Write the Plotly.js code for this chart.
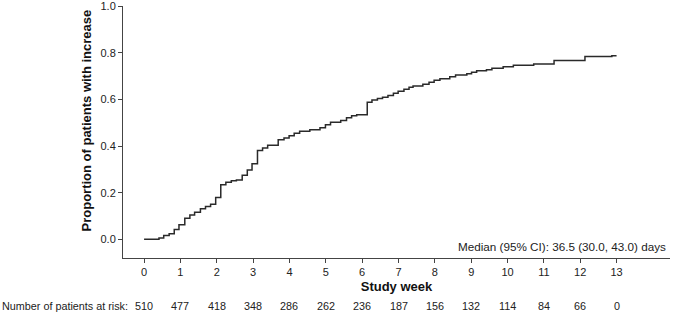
<!DOCTYPE html>
<html>
<head>
<meta charset="utf-8">
<script src="https://cdn.plot.ly/plotly-3.0.1.min.js"></script>
<style>
  html, body { margin: 0; padding: 0; background: #fff; }
  #chart { width: 674px; height: 315px; }
</style>
</head>
<body>
<div id="chart"></div>
<script>
// Step curve: study week and cumulative proportion with increase
const weeks = [0, 0.41, 0.54, 0.69, 0.83, 0.96, 1.12, 1.26, 1.39, 1.55, 1.69, 1.83, 1.97,
  2.11, 2.25, 2.40, 2.54, 2.70, 2.84, 2.97, 3.12, 3.26, 3.40, 3.69, 3.85, 3.99,
  4.13, 4.28, 4.56, 4.84, 4.99, 5.13, 5.41, 5.57, 5.71, 5.85, 6.14, 6.27, 6.42,
  6.56, 6.71, 6.86, 6.99, 7.15, 7.29, 7.40, 7.67, 7.84, 7.98, 8.14, 8.41, 8.57,
  8.88, 9.01, 9.15, 9.42, 9.57, 9.88, 10.16, 10.72, 11.28, 12.13, 12.87, 13.0];
const proportion = [0, 0.006, 0.016, 0.024, 0.042, 0.063, 0.091, 0.104, 0.116, 0.131, 0.141, 0.151, 0.180,
  0.234, 0.245, 0.251, 0.255, 0.275, 0.298, 0.324, 0.381, 0.392, 0.404, 0.427, 0.435, 0.444,
  0.455, 0.464, 0.470, 0.479, 0.492, 0.502, 0.510, 0.522, 0.530, 0.535, 0.588, 0.598, 0.604,
  0.610, 0.617, 0.627, 0.635, 0.644, 0.652, 0.658, 0.665, 0.674, 0.682, 0.689, 0.698, 0.705,
  0.710, 0.717, 0.723, 0.728, 0.734, 0.740, 0.747, 0.752, 0.767, 0.784, 0.788, 0.788];

// Axis ticks
const weekTicks = [0, 1, 2, 3, 4, 5, 6, 7, 8, 9, 10, 11, 12, 13];
const yTicks = [0, 0.2, 0.4, 0.6, 0.8, 1.0];

// Number at risk table
const riskLabel = "Number of patients at risk:";
const atRisk = [510, 477, 418, 348, 286, 262, 236, 187, 156, 132, 114, 84, 66, 0];

const medianText = "Median (95% CI): 36.5 (30.0, 43.0) days";
const xTitle = "Study week";
const yTitle = "Proportion of patients with increase";

const FONT = "'Liberation Sans', Arial, Helvetica, sans-serif";

const annotations = [];
annotations.push({
  text: riskLabel, xref: 'paper', yref: 'paper', x: -0.224, y: -0.19,
  xanchor: 'left', yanchor: 'middle', showarrow: false,
  font: { family: FONT, size: 10.8, color: '#222' }
});
weekTicks.forEach((w, i) => {
  annotations.push({
    text: String(atRisk[i]), xref: 'x', yref: 'paper', x: w, y: -0.19,
    xanchor: 'center', yanchor: 'middle', showarrow: false,
    font: { family: FONT, size: 10.8, color: '#222' }
  });
});
annotations.push({
  text: medianText, xref: 'paper', yref: 'y', x: 0.9963, y: -0.029,
  xanchor: 'right', yanchor: 'middle', showarrow: false,
  font: { family: FONT, size: 11.7, color: '#222' }
});
// y-axis title, centred on the 0–1 data range as in the reference
annotations.push({
  text: yTitle, xref: 'paper', yref: 'y', x: -0.0676, y: 0.51,
  xanchor: 'center', yanchor: 'middle', textangle: -90, showarrow: false,
  font: { family: FONT, size: 13, color: '#111', weight: 'bold' }
});

const trace = {
  x: weeks, y: proportion, type: 'scatter', mode: 'lines',
  line: { shape: 'hv', color: '#2a2a2a', width: 1.5 },
  hoverinfo: 'skip', showlegend: false
};

const layout = {
  width: 674, height: 315,
  margin: { l: 123, r: 4, t: 6, b: 57 },
  paper_bgcolor: '#fff', plot_bgcolor: '#fff',
  font: { family: FONT, size: 11, color: '#222' },
  showlegend: false,
  xaxis: {
    range: [-0.58, 14.47], tickvals: weekTicks, ticktext: weekTicks.map(String),
    showline: true, linecolor: '#444', linewidth: 1,
    ticks: 'outside', ticklen: 4, tickcolor: '#444', tickwidth: 1,
    showgrid: false, zeroline: false,
    tickfont: { family: FONT, size: 11, color: '#222' },
    title: { text: xTitle, font: { family: FONT, size: 13, color: '#111', weight: 'bold' }, standoff: 4 }
  },
  yaxis: {
    range: [-0.08, 1.001], tickvals: yTicks, tickformat: '.1f',
    showline: true, linecolor: '#444', linewidth: 1,
    ticks: 'outside', ticklen: 4, tickcolor: '#444', tickwidth: 1,
    showgrid: false, zeroline: false,
    tickfont: { family: FONT, size: 11, color: '#222' }
  },
  annotations: annotations
};

Plotly.newPlot('chart', [trace], layout, { staticPlot: true, displayModeBar: false });
</script>
</body>
</html>
